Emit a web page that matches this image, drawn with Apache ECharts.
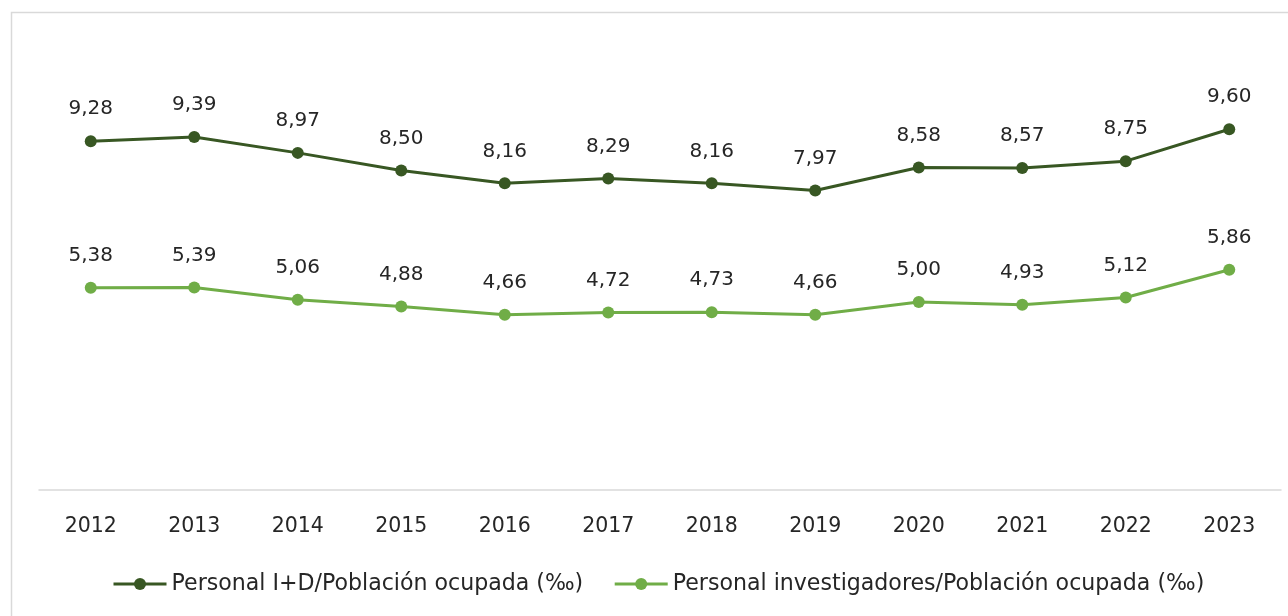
<!DOCTYPE html>
<html>
<head>
<meta charset="utf-8">
<script src="https://cdn.jsdelivr.net/npm/echarts@6/dist/echarts.min.js"></script>
<style>
html,body{margin:0;padding:0;background:#fff;}
#c{width:1288px;height:616px;}
</style>
</head>
<body>
<div id="c"></div>
<script>
const categories = ['2012','2013','2014','2015','2016','2017','2018','2019','2020','2021','2022','2023'];
const personalID = [9.28, 9.39, 8.97, 8.50, 8.16, 8.29, 8.16, 7.97, 8.58, 8.57, 8.75, 9.60];
const personalInv = [5.38, 5.39, 5.06, 4.88, 4.66, 4.72, 4.73, 4.66, 5.00, 4.93, 5.12, 5.86];
const seriesNames = ['Personal I+D/Población ocupada (‰)', 'Personal investigadores/Población ocupada (‰)'];

const FONT = 'DejaVu Sans';
const chart = echarts.init(document.getElementById('c'));
const fmt = p => p.value.toFixed(2).replace('.', ',');
function mk(name, data, color) {
  return {
    name: name, type: 'line', data: data,
    symbol: 'circle', symbolSize: 12,
    lineStyle: { color: color, width: 3 },
    itemStyle: { color: color },
    label: { show: true, position: 'top', distance: 16, formatter: fmt,
      color: '#262626', fontFamily: FONT, fontSize: 20 },
    emphasis: { disabled: true },
    animation: false
  };
}
chart.setOption({
  animation: false,
  graphic: [{ type: 'rect', shape: { x: 11.5, y: 12.5, width: 1300, height: 640 },
    style: { fill: 'none', stroke: '#d9d9d9', lineWidth: 1.5 }, silent: true }],
  grid: { left: 39, right: 7, top: 39, bottom: 126 },
  xAxis: {
    type: 'category', data: categories, boundaryGap: true,
    axisLine: { lineStyle: { color: '#d9d9d9', width: 1.5 } },
    axisTick: { show: false },
    axisLabel: { color: '#262626', fontFamily: FONT, fontSize: 20.5, margin: 26 }
  },
  yAxis: { type: 'value', min: 0, max: 12, show: false, splitLine: { show: false } },
  legend: {
    left: 107, top: 568, itemWidth: 53, itemHeight: 15, itemGap: 30,
    lineStyle: { width: 3 },
    textStyle: { color: '#262626', fontFamily: FONT, fontSize: 22.1 },
    data: seriesNames
  },
  series: [mk(seriesNames[0], personalID, '#385723'), mk(seriesNames[1], personalInv, '#70ad47')]
});
</script>
</body>
</html>
